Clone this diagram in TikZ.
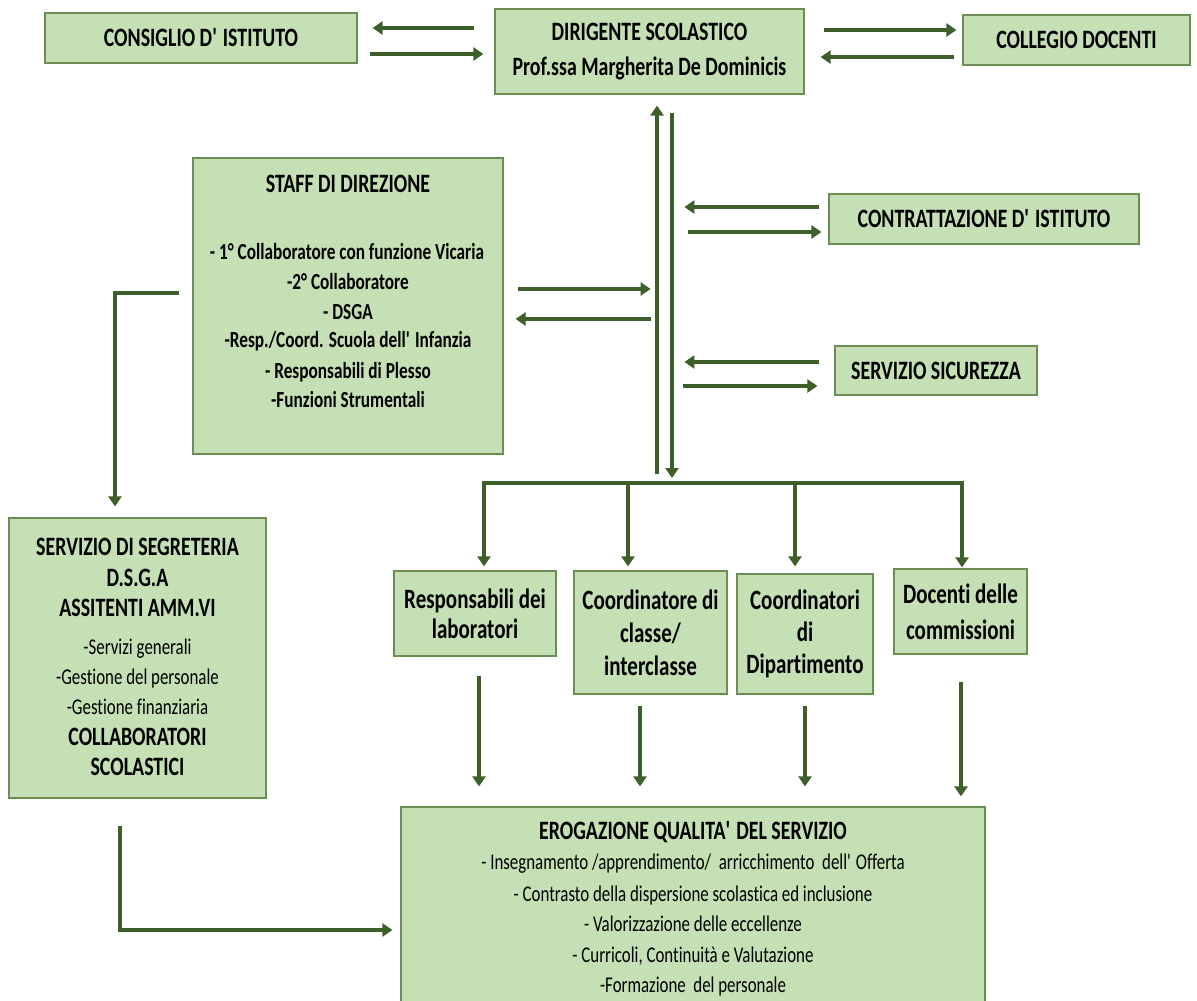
\documentclass[tikz,border=0pt]{standalone}
\usepackage{fontspec}
\setmainfont{Carlito}[FakeStretch=0.75,Ligatures={NoCommon}]
\usetikzlibrary{arrows.meta,calc}
\definecolor{boxfill}{HTML}{C5E0B4}
\definecolor{boxdraw}{HTML}{6C8E52}
\definecolor{arrcol}{HTML}{3D5F2A}
\newcommand{\apo}{\textquotesingle}
\tikzset{
  box/.style={draw=boxdraw, fill=boxfill, line width=1.2pt, inner sep=0pt, align=center,
    font=\bfseries\fontsize{26.5}{31}\selectfont},
  smallbox/.style={box, font=\bfseries\fontsize{28}{31}\selectfont},
  txt/.style={inner sep=0pt, anchor=base, font=\bfseries\fontsize{26.5}{30}\selectfont},
  txtb/.style={inner sep=0pt, anchor=base, font=\bfseries\fontsize{23}{27}\selectfont},
  txtr/.style={inner sep=0pt, anchor=base, font=\fontsize{22.5}{26}\selectfont},
  arr/.style={draw=arrcol, line width=3.6pt, -{Triangle[length=10pt,width=13pt]}},
  arrb/.style={draw=arrcol, line width=4pt, {Triangle[length=10pt,width=13pt]}-{Triangle[length=10pt,width=13pt]}}
}
\begin{document}
\begin{tikzpicture}[x=1pt,y=-1pt]
\fill[white] (0,0) rectangle (1197,1001);
\useasboundingbox (0,0) rectangle (1197,1001);

% boxes
\node[box, minimum width=312pt, minimum height=50pt] (cons) at (201,38) {CONSIGLIO D\apo{} ISTITUTO};
\node[box, minimum width=309pt, minimum height=85pt, font=\bfseries\fontsize{26.5}{35}\selectfont] (dir) at (649.5,51.5) {DIRIGENTE SCOLASTICO\\Prof.ssa Margherita De Dominicis};
\node[box, minimum width=227pt, minimum height=50pt] (coll) at (1076.5,40) {COLLEGIO DOCENTI};
\node[box, minimum width=310pt, minimum height=296pt] (staff) at (348,306) {};
\node[box, minimum width=310pt, minimum height=50pt] (contr) at (984,219) {CONTRATTAZIONE D\apo{} ISTITUTO};
\node[box, minimum width=202pt, minimum height=49pt] (sicur) at (936,370.5) {SERVIZIO SICUREZZA};
\node[box, minimum width=257pt, minimum height=280pt] (segr) at (137.5,658) {};
\node[smallbox, minimum width=162pt, minimum height=85pt, font=\bfseries\fontsize{28}{30}\selectfont] (resp) at (475,613.5) {Responsabili dei\\laboratori};
\node[smallbox, minimum width=153pt, minimum height=123pt, font=\bfseries\fontsize{28}{33}\selectfont] (coord) at (650.5,632.5) {Coordinatore di\\classe/\\interclasse};
\node[smallbox, minimum width=136pt, minimum height=120pt, font=\bfseries\fontsize{28}{32}\selectfont] (dip) at (805,634) {Coordinatori\\di\\Dipartimento};
\node[smallbox, minimum width=133pt, minimum height=85pt, font=\bfseries\fontsize{28}{36}\selectfont] (doc) at (960.5,611.5) {Docenti delle\\commissioni};
\node[box, minimum width=584pt, minimum height=203pt] (erog) at (693,908.5) {};

% staff text
\node[txt] (st0) at (348,192.5) {STAFF DI DIREZIONE};
\node[txtb] (st1) at (347,259.4) {- 1° Collaboratore con funzione Vicaria};
\node[txtb] (st2) at (348,289.4) {-2° Collaboratore};
\node[txtb] (st3) at (348,319.4) {- DSGA};
\node[txtb] (st4) at (348,347.4) {-Resp./Coord. Scuola dell\apo{} Infanzia};
\node[txtb] (st5) at (348,378.4) {- Responsabili di Plesso};
\node[txtb] (st6) at (348,407.4) {-Funzioni Strumentali};

% segreteria text
\node[txt] (sg1) at (137.5,555.5) {SERVIZIO DI SEGRETERIA};
\node[txt] (sg2) at (137.5,586.5) {D.S.G.A};
\node[txt] (sg3) at (137.5,616.5) {ASSITENTI AMM.VI};
\node[txtr] (sg4) at (137.5,654.2) {-Servizi generali};
\node[txtr] (sg5) at (137.5,684.2) {-Gestione del personale};
\node[txtr] (sg6) at (137.5,714.2) {-Gestione finanziaria};
\node[txt] (sg7) at (137.5,745.5) {COLLABORATORI};
\node[txt] (sg8) at (137.5,775.5) {SCOLASTICI};

% erogazione text
\node[txt] (er0) at (693,839.5) {EROGAZIONE QUALITA\apo{} DEL SERVIZIO};
\node[txtr] (er1) at (693,869.2) {- Insegnamento /apprendimento/\ \ arricchimento\ \ dell\apo{} Offerta};
\node[txtr] (er2) at (693,901.2) {- Contrasto della dispersione scolastica ed inclusione};
\node[txtr] (er3) at (693,931.2) {- Valorizzazione delle eccellenze};
\node[txtr] (er4) at (693,962.2) {- Curricoli, Continuità e Valutazione};
\node[txtr] (er5) at (693,992.2) {-Formazione\ \ del personale};

% top connectors
\draw[arr] ($(dir.west)+(-20,-23.5)$) -- ($(cons.east)+(15,-10)$);
\draw[arr] ($(cons.east)+(12,16)$) -- ($(dir.west)+(-11,2.5)$);
\draw[arr] ($(dir.east)+(19,-21.5)$) -- ($(coll.west)+(-6,-10)$);
\draw[arr] ($(coll.west)+(-8,17)$) -- ($(dir.east)+(16,5.5)$);

% vertical spine
\coordinate (upfoot) at (657,474);
\coordinate (b1) at (484,483);
\coordinate (b2) at (628,483);
\coordinate (b3) at (795,483);
\coordinate (b4) at (962,483);
\coordinate (bj) at (672,483);
\draw[arr] (upfoot) -- ($(dir.south)+(7.5,11)$);
\draw[arr, shorten >=5pt] ($(dir.south)+(22.5,18)$) -- (bj);

% branch
\draw[arrb, shorten <=4pt, shorten >=1pt] (b1 |- resp.north) -- (b1) -- (b4) -- (b4 |- doc.north);
\draw[arr, line width=4pt, shorten >=4pt] (b2) -- (b2 |- coord.north);
\draw[arr, line width=4pt, shorten >=7pt] (b3) -- (b3 |- dip.north);

% side connectors
\draw[arr] ($(staff.east)+(14,-17)$) -- ($(staff.east)+(147,-17)$);
\draw[arr] ($(staff.east)+(147,13)$) -- ($(staff.east)+(12,13)$);
\draw[arr] ($(contr.west)+(-9,-12)$) -- ($(contr.west)+(-144,-12)$);
\draw[arr] ($(contr.west)+(-140,13)$) -- ($(contr.west)+(-7,13)$);
\draw[arr] ($(sicur.west)+(-15,-8.5)$) -- ($(sicur.west)+(-150,-8.5)$);
\draw[arr] ($(sicur.west)+(-151,15.5)$) -- ($(sicur.west)+(-17,15.5)$);

% staff -> segreteria, segreteria -> erogazione
\draw[arr] ($(staff.west)+(-13,-13)$) -| ($(segr.north)+(-22.5,-11)$);
\draw[arr] ($(segr.south)+(-17.5,27)$) |- ($(erog.west)+(-8,21.5)$);

% boxes -> erogazione
\coordinate (r1) at ($(resp.south)+(4,19)$);
\coordinate (r2) at ($(coord.south)+(-10.5,11)$);
\coordinate (r3) at ($(dip.south)+(0,11)$);
\coordinate (r4) at ($(doc.south)+(0.5,27)$);
\draw[arr, shorten >=20pt] (r1) -- (r1 |- erog.north);
\draw[arr, shorten >=20pt] (r2) -- (r2 |- erog.north);
\draw[arr, shorten >=20pt] (r3) -- (r3 |- erog.north);
\draw[arr, shorten >=10pt] (r4) -- (r4 |- erog.north);
\end{tikzpicture}
\end{document}
